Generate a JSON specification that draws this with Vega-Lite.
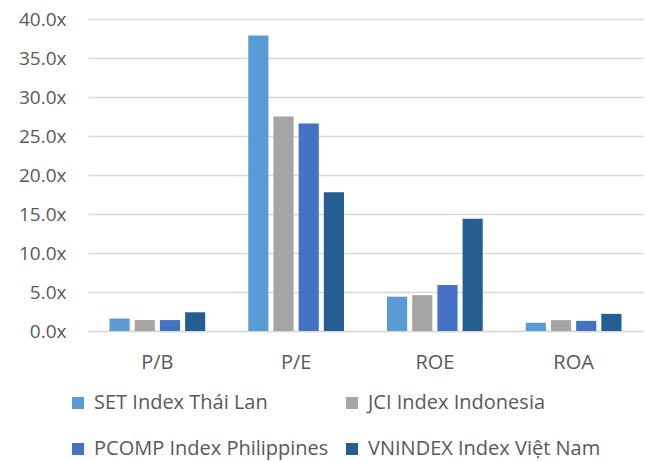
{
  "$schema": "https://vega.github.io/schema/vega-lite/v6.json",
  "width": 555,
  "height": 312,
  "autosize": "none",
  "padding": {"left": 88, "top": 19, "right": 4, "bottom": 130},
  "background": "white",
  "config": {
    "view": {"stroke": null},
    "font": "Open Sans"
  },
  "data": {
    "values": [
      {"metric": "P/B", "index": "SET Index Thái Lan", "value": 1.6},
      {"metric": "P/B", "index": "JCI Index Indonesia", "value": 1.4},
      {"metric": "P/B", "index": "PCOMP Index Philippines", "value": 1.4},
      {"metric": "P/B", "index": "VNINDEX Index Việt Nam", "value": 2.4},
      {"metric": "P/E", "index": "SET Index Thái Lan", "value": 37.9},
      {"metric": "P/E", "index": "JCI Index Indonesia", "value": 27.5},
      {"metric": "P/E", "index": "PCOMP Index Philippines", "value": 26.6},
      {"metric": "P/E", "index": "VNINDEX Index Việt Nam", "value": 17.8},
      {"metric": "ROE", "index": "SET Index Thái Lan", "value": 4.4},
      {"metric": "ROE", "index": "JCI Index Indonesia", "value": 4.6},
      {"metric": "ROE", "index": "PCOMP Index Philippines", "value": 5.9},
      {"metric": "ROE", "index": "VNINDEX Index Việt Nam", "value": 14.4},
      {"metric": "ROA", "index": "SET Index Thái Lan", "value": 1.05},
      {"metric": "ROA", "index": "JCI Index Indonesia", "value": 1.4},
      {"metric": "ROA", "index": "PCOMP Index Philippines", "value": 1.3},
      {"metric": "ROA", "index": "VNINDEX Index Việt Nam", "value": 2.2}
    ]
  },
  "mark": {"type": "bar"},
  "encoding": {
    "x": {
      "field": "metric",
      "type": "nominal",
      "sort": ["P/B", "P/E", "ROE", "ROA"],
      "scale": {"paddingInner": 0.31, "paddingOuter": 0.155},
      "axis": {
        "title": null,
        "labelAngle": 0,
        "labelFontSize": 20,
        "labelColor": "#595959",
        "labelPadding": 21,
        "ticks": false,
        "domainColor": "#d9d9d9",
        "domainWidth": 1.5
      }
    },
    "xOffset": {
      "field": "index",
      "type": "nominal",
      "sort": ["SET Index Thái Lan", "JCI Index Indonesia", "PCOMP Index Philippines", "VNINDEX Index Việt Nam"],
      "scale": {"paddingInner": 0.2, "paddingOuter": 0}
    },
    "y": {
      "field": "value",
      "type": "quantitative",
      "scale": {"domain": [0, 40]},
      "axis": {
        "title": null,
        "values": [0, 5, 10, 15, 20, 25, 30, 35, 40],
        "labelExpr": "format(datum.value, '.1f') + 'x'",
        "labelFontSize": 19,
        "labelColor": "#595959",
        "labelPadding": 22,
        "ticks": false,
        "domain": false,
        "gridColor": "#d9d9d9",
        "gridWidth": 1.5
      }
    },
    "color": {
      "field": "index",
      "type": "nominal",
      "sort": ["SET Index Thái Lan", "JCI Index Indonesia", "PCOMP Index Philippines", "VNINDEX Index Việt Nam"],
      "scale": {
        "domain": ["SET Index Thái Lan", "JCI Index Indonesia", "PCOMP Index Philippines", "VNINDEX Index Việt Nam"],
        "range": ["#5b9bd5", "#a5a5a5", "#4472c4", "#255e91"]
      },
      "legend": {
        "title": null,
        "orient": "none",
        "legendX": -20,
        "legendY": 374,
        "direction": "horizontal",
        "columns": 2,
        "symbolType": "square",
        "symbolSize": 144,
        "symbolStrokeWidth": 0,
        "labelFontSize": 20,
        "labelColor": "#595959",
        "labelOffset": 6,
        "labelLimit": 400,
        "columnPadding": 13,
        "rowPadding": 26
      }
    }
  }
}
